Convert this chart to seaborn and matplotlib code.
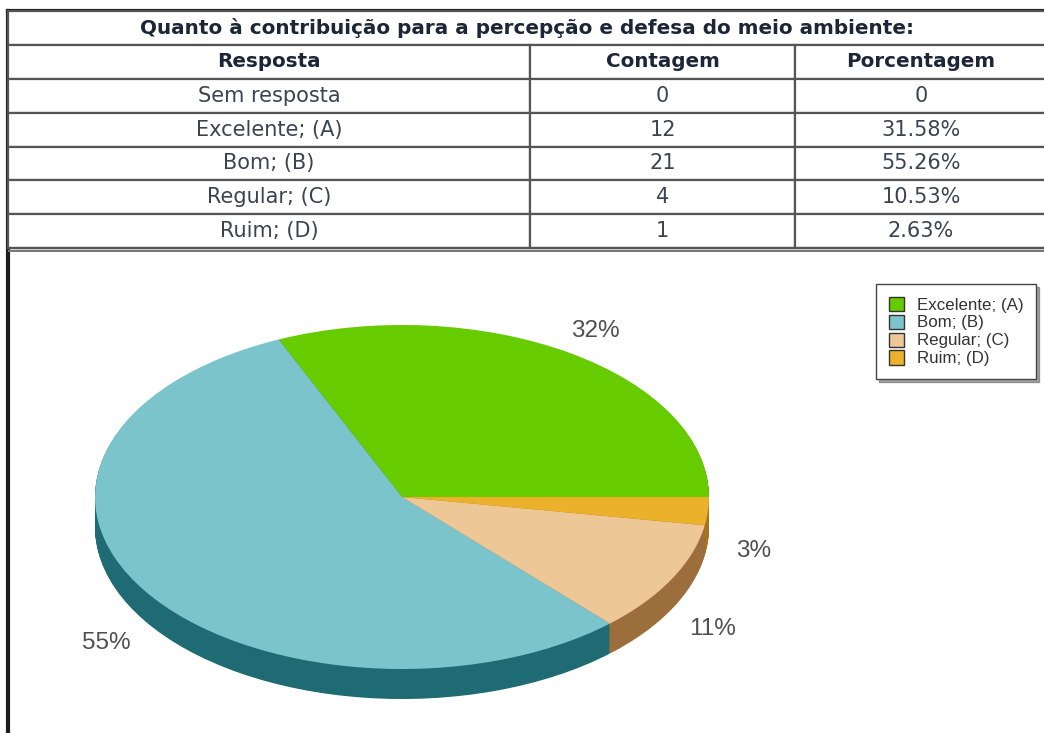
import numpy as np
import matplotlib
matplotlib.use("Agg")
import matplotlib.pyplot as plt
from matplotlib.patches import Patch
import seaborn as sns

# ---- data ----
title = "Quanto à contribuição para a percepção e defesa do meio ambiente:"
col_headers = ["Resposta", "Contagem", "Porcentagem"]
responses = ["Sem resposta", "Excelente; (A)", "Bom; (B)", "Regular; (C)", "Ruim; (D)"]
counts = [0, 12, 21, 4, 1]
percents = [0, 31.58, 55.26, 10.53, 2.63]
percent_labels = ["0", "31.58%", "55.26%", "10.53%", "2.63%"]

top_colors = ["#66CC00", "#7CC4CC", "#EDC796", "#EBB12A"]
side_colors = ["#3F7F00", "#1F6B73", "#9C6E3C", "#A8741A"]

sns.set_theme(style="white")
plt.rcParams['font.family'] = ['DejaVu Sans']

W, H = 1044, 733
fig = plt.figure(figsize=(W / 100, H / 100), dpi=100)
fig.patch.set_facecolor("white")


def px_axes(x0, y0, x1, y1, **kw):
    return fig.add_axes([x0 / W, 1 - y1 / H, (x1 - x0) / W, (y1 - y0) / H], **kw)


R = 1047
# ---- frame ----
frame = px_axes(8, 11, 1060, 745)
frame.set_xticks([]); frame.set_yticks([])
for s in ["right", "bottom"]:
    frame.spines[s].set_visible(False)
for s in ["left", "top"]:
    frame.spines[s].set_linewidth(3)
    frame.spines[s].set_color("#1e1e1e")
frame.patch.set_alpha(0)

# ---- table ----
tab_ax = px_axes(8, 11, R, 248)
tab_ax.axis("off")
total_h = 237.0
title_h = 34 / total_h
t1 = tab_ax.table(cellText=[[title]], cellLoc="center", bbox=[0, 1 - title_h, 1, title_h])
t1.auto_set_font_size(False)
t1.set_fontsize(14.4)
c = t1[0, 0]
c.get_text().set_fontweight("bold")
c.get_text().set_color("#1c2636")
c.set_edgecolor("#555555"); c.set_linewidth(1.6)

cell_text = [col_headers] + [[r, str(n), p] for r, n, p in zip(responses, counts, percent_labels)]
tw = float(R - 8)
t2 = tab_ax.table(cellText=cell_text, cellLoc="center",
                  colWidths=[522 / tw, 265 / tw, (tw - 787) / tw],
                  bbox=[0, 0, 1, 1 - title_h])
t2.auto_set_font_size(False)
t2.set_fontsize(15)
for (r, cidx), cell in t2.get_celld().items():
    cell.set_edgecolor("#555555")
    cell.set_linewidth(1.6)
    if r == 0:
        cell.get_text().set_fontweight("bold")
        cell.get_text().set_fontsize(14.3)
        cell.get_text().set_color("#1c2636")
    else:
        cell.get_text().set_color("#3c4350")

# double line under table
sep = px_axes(8, 246, 1060, 252)
sep.axis("off")
sep.axhline(0.75, color="#555555", lw=1.6)
sep.axhline(0.25, color="#777777", lw=1.6)
sep.set_ylim(0, 1)

# ---- 3D-ish pie ----
cx, cy, rx, ry, depth = 402, 497, 307, 172, 30
d = depth / ry
pie_ax = px_axes(cx - rx, cy - ry, cx + rx, cy + ry + depth)
pie_vals = [p for p in percents if p > 0]
pie_labels = [r for r, p in zip(responses, percents) if p > 0]

for k in np.linspace(-d, 0, 45)[:-1]:
    pie_ax.pie(pie_vals, colors=side_colors, startangle=0, counterclock=True,
               center=(0, k), radius=1, wedgeprops=dict(linewidth=0))

wedges, texts, autotexts = pie_ax.pie(
    pie_vals, colors=top_colors, startangle=0, counterclock=True,
    center=(0, 0), radius=1, autopct="%.0f%%", pctdistance=1.15,
    wedgeprops=dict(linewidth=0),
    textprops=dict(fontsize=17.5, color="#505050", family="Liberation Sans"))
for t in autotexts:
    x, y = t.get_position()
    if y < 0:
        t.set_position((x, y - 1.25 * d))
    t.set_clip_on(False)

pie_ax.set_aspect("auto")
pie_ax.set_xlim(-1, 1)
pie_ax.set_ylim(-1 - d, 1)
pie_ax.axis("off")

handles = [Patch(facecolor=c, edgecolor="#333333", linewidth=1.0) for c in top_colors]
leg = fig.legend(handles, pie_labels, loc="upper left",
                 bbox_to_anchor=(876 / W, 1 - 284 / H),
                 prop=dict(family="Liberation Sans", size=12.2),
                 frameon=True, fancybox=False, shadow=True,
                 handlelength=0.9, handleheight=0.9, handletextpad=0.75,
                 labelspacing=0.12, borderpad=0.75, borderaxespad=0)
leg.get_frame().set_edgecolor("#444444")
leg.get_frame().set_linewidth(1.0)
for t in leg.get_texts():
    t.set_color("#333333")

fig.savefig("out.png", dpi=100, facecolor="white")
